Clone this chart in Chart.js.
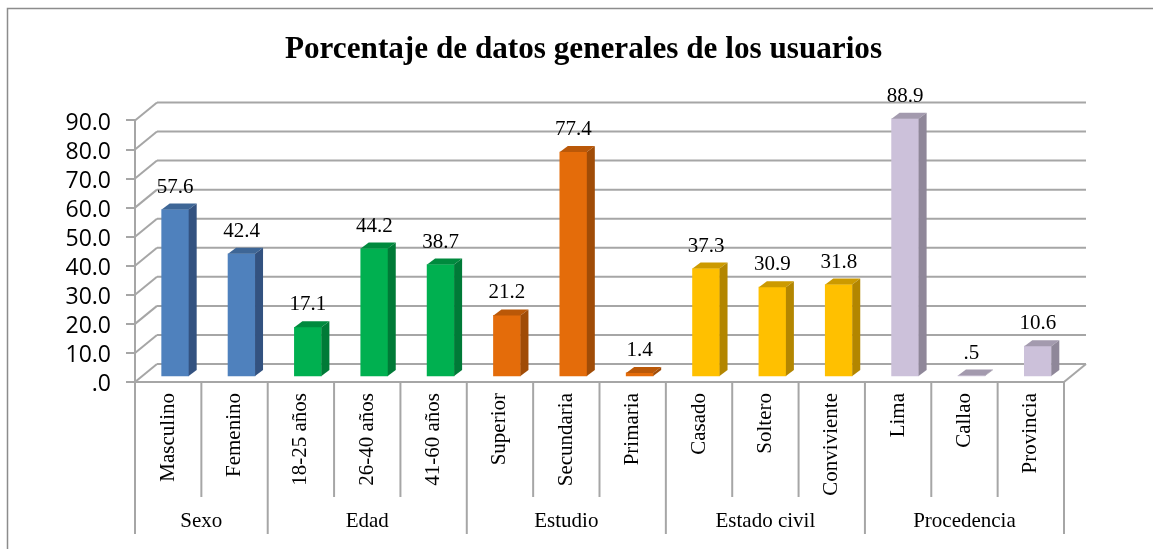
<!DOCTYPE html>
<html>
<head>
<meta charset="utf-8">
<title>Porcentaje de datos generales de los usuarios</title>
<script src="https://cdn.jsdelivr.net/npm/chart.js@4"></script>
<style>
  body { margin:0; background:#fff; }
  canvas { display:block; }
</style>
</head>
<body>
<canvas id="usersChart" width="1153" height="549"></canvas>
<script>
// ============ DATA ============
const categories = ['Masculino','Femenino','18-25 años','26-40 años','41-60 años','Superior','Secundaria','Primaria','Casado','Soltero','Conviviente','Lima','Callao','Provincia'];
const values = [57.6,42.4,17.1,44.2,38.7,21.2,77.4,1.4,37.3,30.9,31.8,88.9,0.5,10.6];
const groupNames = ['Sexo','Edad','Estudio','Estado civil','Procedencia'];
const groupSizes = [2,3,3,3,3];
const yTicks = [0,10,20,30,40,50,60,70,80,90];

// front, top, side colour per group
const groupColors = [
  ['#4F81BD','#3E6696','#335280'],
  ['#00B050','#008A3E','#007A37'],
  ['#E46C0A','#BA5808','#A04C07'],
  ['#FFC000','#CC9A00','#B38600'],
  ['#CCC1DA','#A39AAE','#8F8799']
];
const barGroup = [];
groupSizes.forEach((n,g)=>{ for(let i=0;i<n;i++) barGroup.push(g); });

const GRID = '#A6A6A6';
const SERIF = '"Liberation Serif","Times New Roman",serif';
const WALL_X = 22, WALL_Y = 18;   // depth of the back wall
const BAR_X = 7, BAR_Y = 5;       // bars stand a little inside the floor
const SIDE_X = 8, SIDE_Y = 6;     // depth of each bar

function fmt(v) { return v.toFixed(1).replace(/^0/,''); }

function line(ctx,x1,y1,x2,y2) {
  ctx.beginPath(); ctx.moveTo(x1,y1); ctx.lineTo(x2,y2); ctx.stroke();
}
function poly(ctx,pts,color) {
  ctx.fillStyle = color;
  ctx.beginPath();
  pts.forEach((p,i)=> i ? ctx.lineTo(p[0],p[1]) : ctx.moveTo(p[0],p[1]));
  ctx.closePath(); ctx.fill();
}

const box3d = {
  id:'box3d',
  beforeDraw(chart) {
    const ctx = chart.ctx, a = chart.chartArea, y = chart.scales.y;
    ctx.save();
    // outer frame
    ctx.strokeStyle = '#8C8C8C'; ctx.lineWidth = 1.5;
    ctx.beginPath(); ctx.moveTo(7.5,549); ctx.lineTo(7.5,8.5); ctx.lineTo(1153,8.5); ctx.stroke();
    // walls and floor
    ctx.strokeStyle = GRID; ctx.lineWidth = 2;
    yTicks.forEach(t=>{
      const p = y.getPixelForValue(t);
      line(ctx,a.left,p,a.left+WALL_X,p-WALL_Y);
      line(ctx,a.left+WALL_X,p-WALL_Y,a.right+WALL_X,p-WALL_Y);
    });
    line(ctx,a.right,a.bottom,a.right+WALL_X,a.bottom-WALL_Y);
    line(ctx,a.left,a.bottom,a.right,a.bottom);
    ctx.restore();
  },
  beforeDatasetsDraw(chart) {
    chart.ctx.save();
    chart.ctx.translate(BAR_X,-BAR_Y);
  },
  afterDatasetsDraw(chart) {
    const ctx = chart.ctx, meta = chart.getDatasetMeta(0);
    meta.data.forEach((bar,i)=>{
      const c = groupColors[barGroup[i]];
      const l = bar.x-bar.width/2, r = bar.x+bar.width/2;
      poly(ctx,[[l,bar.y],[l+SIDE_X,bar.y-SIDE_Y],[r+SIDE_X,bar.y-SIDE_Y],[r,bar.y]],c[1]);
      poly(ctx,[[r,bar.y],[r+SIDE_X,bar.y-SIDE_Y],[r+SIDE_X,bar.base-SIDE_Y],[r,bar.base]],c[2]);
    });
    // value labels
    ctx.fillStyle = '#000';
    ctx.font = '21px '+SERIF;
    ctx.textAlign = 'center';
    ctx.textBaseline = 'alphabetic';
    meta.data.forEach((bar,i)=> ctx.fillText(fmt(values[i]),bar.x,bar.y-17));
    ctx.restore();
  },
  afterDraw(chart) {
    // two level category axis
    const ctx = chart.ctx, x = chart.scales.x, a = chart.chartArea;
    const step = x.getPixelForValue(1)-x.getPixelForValue(0);
    const edge = i => x.getPixelForValue(i)-step/2;
    ctx.save();
    ctx.strokeStyle = GRID; ctx.lineWidth = 2;
    let start = 0;
    const ends = new Set([0]);
    groupSizes.forEach(n=>{ start+=n; ends.add(start); });
    for(let i=0;i<=categories.length;i++) {
      line(ctx,edge(i),a.bottom,edge(i),ends.has(i)?534:497);
    }
    ctx.fillStyle = '#000';
    ctx.font = '21px '+SERIF;
    ctx.textAlign = 'center';
    ctx.textBaseline = 'alphabetic';
    start = 0;
    groupNames.forEach((g,k)=>{
      const end = start+groupSizes[k];
      ctx.fillText(g,(edge(start)+edge(end))/2,527);
      start = end;
    });
    ctx.restore();
  }
};

new Chart(document.getElementById('usersChart'), {
  type:'bar',
  plugins:[box3d],
  data:{
    labels:categories,
    datasets:[{
      data:values,
      backgroundColor:barGroup.map(g=>groupColors[g][0]),
      barThickness:27
    }]
  },
  options:{
    responsive:false,
    animation:false,
    layout:{ padding:{left:14,right:0,top:0,bottom:0} },
    plugins:{
      legend:{display:false},
      tooltip:{enabled:false},
      title:{
        display:true,
        text:'Porcentaje de datos generales de los usuarios',
        color:'#000',
        font:{family:SERIF,size:31.2,weight:'bold'},
        padding:{top:31,bottom:52}
      }
    },
    scales:{
      x:{
        grid:{display:false},
        border:{display:false},
        ticks:{
          autoSkip:false, minRotation:90, maxRotation:90, padding:3, color:'#000',
          font:{family:SERIF,size:21}
        },
        afterFit(s){ s.height = 167; }
      },
      y:{
        min:0, max:90,
        afterFit(s){ s.width = 121; },
        afterBuildTicks(s){ s.ticks = yTicks.map(v=>({value:v})); },
        grid:{drawOnChartArea:false,color:GRID,lineWidth:2,tickLength:9},
        border:{color:GRID,width:2},
        ticks:{
          autoSkip:false,
          padding:15, color:'#000',
          // empty first line with a tight line height drops the text 2-3px below its tick
          font:{family:'"Open Sans"',size:23,lineHeight:0.22},
          callback:v=>['',fmt(v)]
        }
      },
      // empty right axis only keeps room right of the plot
      y2:{
        position:'right',
        grid:{display:false},
        border:{display:false},
        ticks:{display:false},
        afterFit(s){ s.width = 89; }
      }
    }
  }
});
</script>
</body>
</html>
